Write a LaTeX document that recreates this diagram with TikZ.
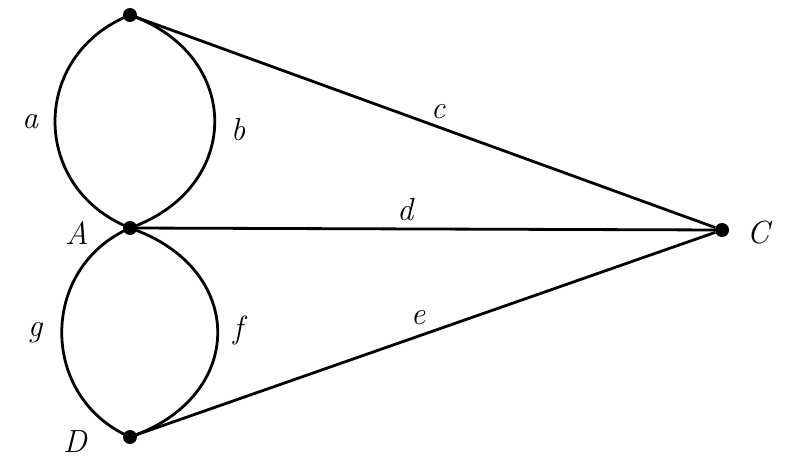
\documentclass[tikz,border=0pt]{standalone}
\begin{document}
\begin{tikzpicture}[x=1pt,y=-1pt,
  vtx/.style={circle,fill=black,inner sep=0pt,minimum size=14pt},
  edge/.style={line width=2.8pt,black},
  lbl/.style={font=\fontsize{32}{34}\selectfont\itshape}]
\useasboundingbox (0,0) rectangle (790,460);
\node[vtx] (T) at (130,15) {};
\node[vtx] (A) at (130,228) {};
\node[vtx] (C) at (722,230) {};
\node[vtx] (D) at (130,437) {};
\draw[edge] (T.center) .. controls (30,55) and (30,188) .. (A.center);
\draw[edge] (T.center) .. controls (243,55) and (243,188) .. (A.center);
\draw[edge] (A.center) .. controls (39,268) and (39,397) .. (D.center);
\draw[edge] (A.center) .. controls (247,268) and (247,397) .. (D.center);
\draw[edge] (T) -- (C);
\draw[edge] (A) -- (C);
\draw[edge] (D) -- (C);
\node[lbl] (la) at (30,122) {a};
\node[lbl] (lb) at (238,130) {b};
\node[lbl] (lc) at (438,112) {c};
\node[lbl] (ld) at (405,210) {d};
\node[lbl] (le) at (418,318) {e};
\node[lbl] (lf) at (238,330) {f};
\node[lbl] (lg) at (35,333) {g};
\node[lbl] (lA) at (77,233) {A};
\node[lbl] (lC) at (758,233) {C};
\node[lbl] (lD) at (75,442) {D};
\end{tikzpicture}
\end{document}
